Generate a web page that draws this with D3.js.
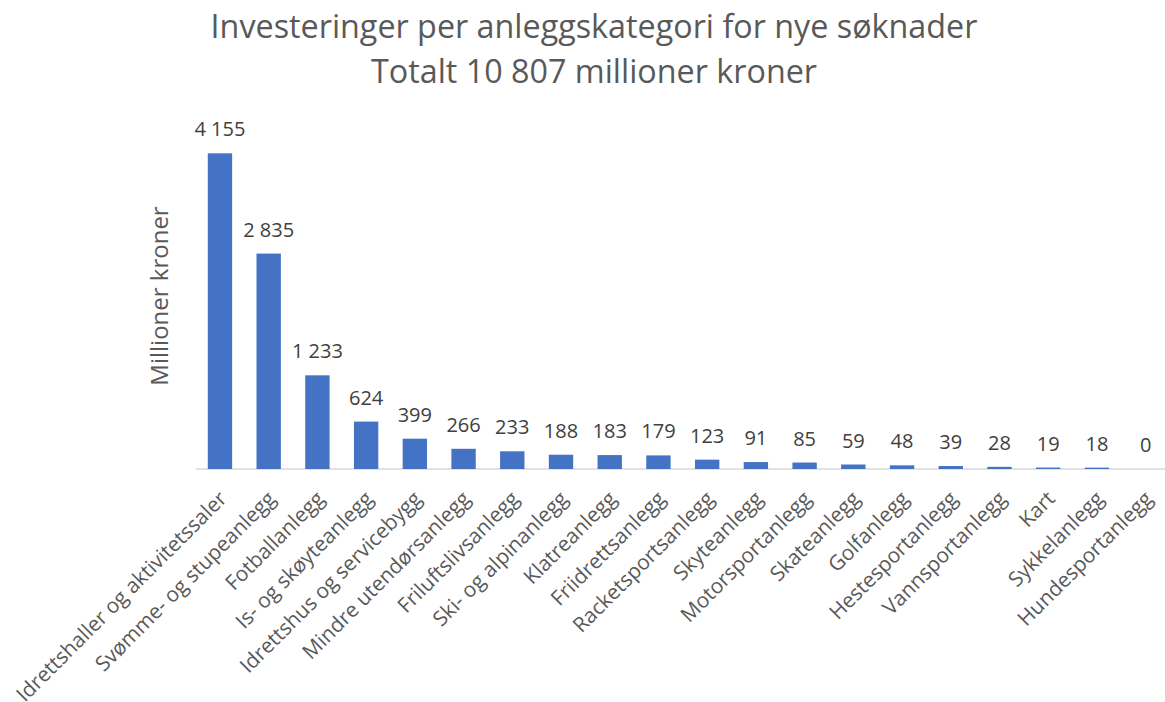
<!DOCTYPE html>
<html><head><meta charset="utf-8">
<script src="https://cdn.jsdelivr.net/npm/d3@7"></script>
<style>body{margin:0;background:#fff;} svg{display:block;font-family:"Open Sans",sans-serif;}</style>
</head><body>
<svg id="chart" width="1165" height="702"></svg>
<script>
const categories = ["Idrettshaller og aktivitetssaler","Svømme- og stupeanlegg","Fotballanlegg","Is- og skøyteanlegg","Idrettshus og servicebygg","Mindre utendørsanlegg","Friluftslivsanlegg","Ski- og alpinanlegg","Klatreanlegg","Friidrettsanlegg","Racketsportsanlegg","Skyteanlegg","Motorsportanlegg","Skateanlegg","Golfanlegg","Hestesportanlegg","Vannsportanlegg","Kart","Sykkelanlegg","Hundesportanlegg"];
const values = [4155,2835,1233,624,399,266,233,188,183,179,123,91,85,59,48,39,28,19,18,0];
const titleLines = ["Investeringer per anleggskategori for nye søknader","Totalt 10 807 millioner kroner"];
const yTitle = "Millioner kroner";

const svg = d3.select("#chart");
const x = d3.scaleBand().domain(categories).range([195.6, 1170]).paddingInner(0.5).paddingOuter(0.25);
const y = d3.scaleLinear().domain([0, 4155]).range([469, 153.3]);
const fmt = v => d3.format(",")(v).replace(/,/g, " ");

svg.selectAll("text.title").data(titleLines).join("text")
  .attr("x", 594).attr("y", (d,i)=> 38 + i*45)
  .attr("text-anchor","middle").attr("font-size", 32.3).attr("fill","#595959").text(d=>d);

svg.append("text").attr("transform","translate(168,296) rotate(-90)")
  .attr("text-anchor","middle").attr("font-size",24).attr("fill","#595959").text(yTitle);

svg.append("line").attr("x1",195.6).attr("x2",1165).attr("y1",469).attr("y2",469)
  .attr("stroke","#d9d9d9").attr("stroke-width",1.5);

const xb = x.bandwidth();
svg.selectAll("rect.bar").data(values).join("rect")
  .attr("x",(d,i)=>x(categories[i])).attr("width",xb)
  .attr("y",d=>y(d)).attr("height",d=>y(0)-y(d)).attr("fill","#4472c4");

svg.selectAll("text.lbl").data(values).join("text")
  .attr("x",(d,i)=>x(categories[i])+xb/2).attr("y",d=>y(d)-17)
  .attr("text-anchor","middle").attr("font-size",20).attr("fill","#404040").text(d=>fmt(d));

const xAxis = d3.axisBottom(x).tickSize(0).tickPadding(0);
const ax = svg.append("g").attr("transform","translate(0,469)").call(xAxis);
ax.select(".domain").remove();
ax.selectAll("text").attr("font-family","Open Sans").attr("font-size",20.8).attr("fill","#595959")
  .attr("text-anchor","end").attr("dy",null).attr("y",0)
  .attr("transform","translate(8,31) rotate(-45)");
</script>
</body></html>
